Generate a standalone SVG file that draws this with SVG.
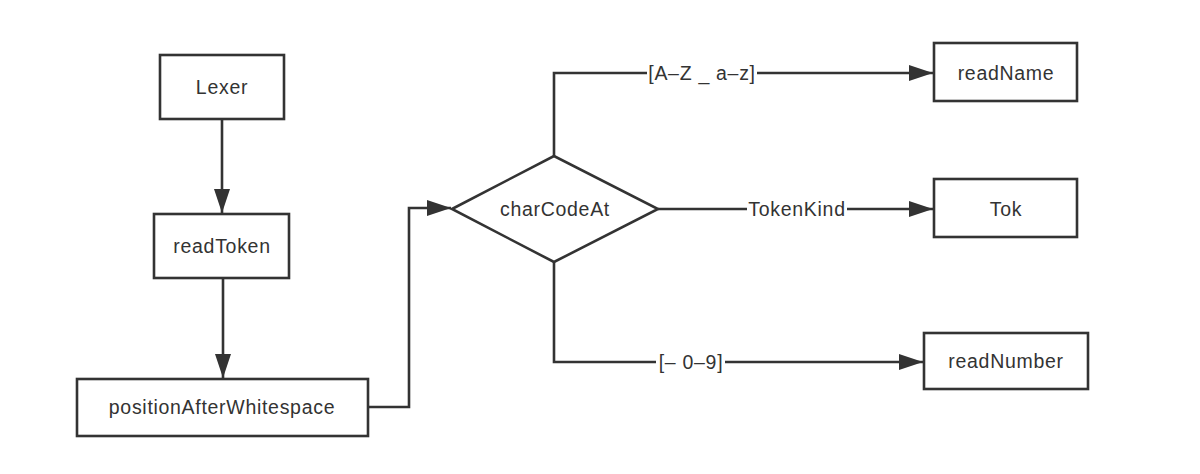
<svg xmlns="http://www.w3.org/2000/svg" width="1200" height="474" viewBox="0 0 1200 474">
<defs>
<marker id="arr" markerUnits="userSpaceOnUse" markerWidth="24" markerHeight="16" refX="24" refY="8" orient="auto">
<path d="M0,0 L24,8 L0,16 Z" fill="#333"/>
</marker>
<style>
.box{fill:#fff;stroke:#333;stroke-width:2.6}
.ln{fill:none;stroke:#333;stroke-width:2.6}
.t{font-family:"Liberation Sans",Arial,sans-serif;font-size:19.5px;letter-spacing:0.7px;fill:#333;text-anchor:middle;dominant-baseline:central}
.lbg{fill:#fff}
</style>
</defs>
<rect width="1200" height="474" fill="#fff"/>
<g id="connectors">
<path class="ln" d="M222,119 V213" marker-end="url(#arr)"/>
<path class="ln" d="M223,278 V378" marker-end="url(#arr)"/>
<path class="ln" d="M368,407 H409 V208 H451" marker-end="url(#arr)"/>
<path class="ln" d="M554,156 V73 H933" marker-end="url(#arr)"/>
<path class="ln" d="M658,209 H933" marker-end="url(#arr)"/>
<path class="ln" d="M554,262 V362 H923" marker-end="url(#arr)"/>
<rect class="lbg" x="647" y="61" width="110" height="24"/>
<text class="t" x="702" y="73">[A–Z _ a–z]</text>
<rect class="lbg" x="747" y="197" width="100" height="24"/>
<text class="t" x="797" y="209">TokenKind</text>
<rect class="lbg" x="656" y="350" width="69" height="24"/>
<text class="t" x="691" y="362">[– 0–9]</text>
</g>
<g id="lexer"><rect class="box" x="160" y="55" width="124" height="64"/><text class="t" x="222" y="87">Lexer</text></g>
<g id="readToken"><rect class="box" x="154" y="214" width="135" height="64"/><text class="t" x="222" y="246">readToken</text></g>
<g id="positionAfterWhitespace"><rect class="box" x="77" y="379" width="291" height="57"/><text class="t" x="222" y="407">positionAfterWhitespace</text></g>
<g id="charCodeAt"><path class="box" d="M452,209 L554,156 L658,209 L554,262 Z"/><text class="t" x="555" y="209">charCodeAt</text></g>
<g id="readName"><rect class="box" x="934" y="43" width="143" height="58"/><text class="t" x="1006" y="73">readName</text></g>
<g id="tok"><rect class="box" x="934" y="179" width="143" height="58"/><text class="t" x="1006" y="209">Tok</text></g>
<g id="readNumber"><rect class="box" x="924" y="333" width="164" height="56"/><text class="t" x="1006" y="361">readNumber</text></g>
</svg>
